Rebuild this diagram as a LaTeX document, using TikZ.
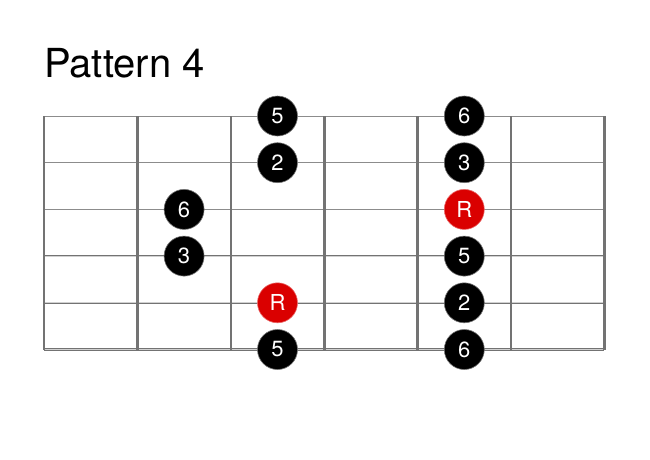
\documentclass[tikz,border=0pt]{standalone}
\usepackage{fontspec}
\setmainfont{TeX Gyre Heros}
\usetikzlibrary{positioning}
\definecolor{rootred}{RGB}{218,0,0}
\begin{document}
\begin{tikzpicture}
  [
    x=1pt, y=-1pt,
    fretline/.style={draw=black!55, line width=2.6pt},
    plain/.style={draw=black!45, line width=#1},
    wound/.style={draw=black!55, line width=0.5pt, double=black!18, double distance=#1},
    note/.style={circle, fill=black, draw=black!55, line width=0.6pt, minimum size=40pt, inner sep=0pt, text=white, font=\fontsize{22}{22}\selectfont},
    root/.style={note, fill=rootred, draw=rootred!60},
    on grid, node distance=46.7pt,
  ]
  \useasboundingbox (0,0) rectangle (650,459);

  \node (title) [anchor=base west, inner sep=0pt, font=\fontsize{40}{40}\selectfont] at (44,77) {Pattern 4};

  % strings
  \draw [plain=0.9pt] (44,116) -- (604,116);
  \draw [plain=1pt] (44,162.7) -- (604,162.7);
  \draw [plain=1.2pt] (44,209.4) -- (604,209.4);
  \draw [wound=0.6pt] (44,256.1) -- (604,256.1);
  \draw [wound=1pt] (44,302.8) -- (604,302.8);
  \draw [wound=1.4pt] (44,349.5) -- (604,349.5);

  % frets
  \foreach \f in {0,...,6}
    \draw [fretline] (44+93.4*\f,116) -- (44+93.4*\f,350);

  % left box
  \node (six1) [note] at (184.1,209.4) {6};
  \node (three1) [note, below=of six1] {3};

  % middle box
  \node (five1) [note] at (277.5,116) {5};
  \node (two1) [note, below=of five1] {2};
  \node (root1) [root, below=140.1pt of two1] {R};
  \node (five2) [note, below=of root1] {5};

  % right box
  \node (six2) [note] at (464.3,116) {6};
  \node (three2) [note, below=of six2] {3};
  \node (root2) [root, below=of three2] {R};
  \node (five3) [note, below=of root2] {5};
  \node (two2) [note, below=of five3] {2};
  \node (six3) [note, below=of two2] {6};
\end{tikzpicture}
\end{document}
